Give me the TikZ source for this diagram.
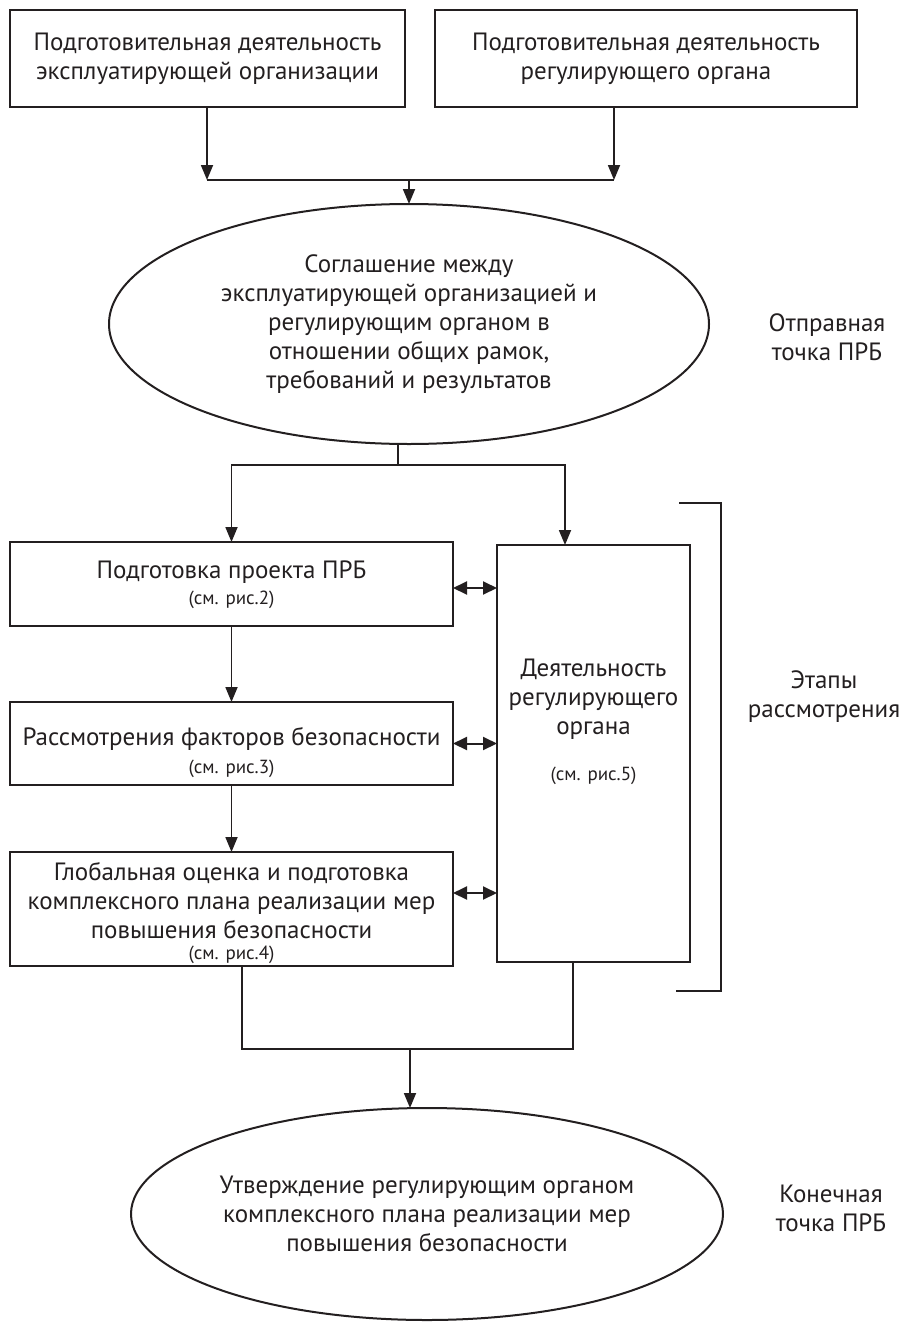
\documentclass[tikz,border=0pt]{standalone}
\usepackage{fontspec}
\setmainfont{PT Sans}
\usetikzlibrary{arrows.meta,shapes.geometric,calc}
\definecolor{ink}{HTML}{231F20}
\begin{document}
\begin{tikzpicture}[x=1pt,y=-1pt,
  every node/.style={inner sep=0pt,outer sep=0pt,text=ink},
  mainfont/.style={font=\fontsize{25}{29}\selectfont},
  subfont/.style={font=\fontsize{19}{22}\selectfont},
  box/.style={draw=ink,line width=2.2pt,rectangle},
  oval/.style={draw=ink,line width=2pt,ellipse,mainfont,align=center},
  txt/.style={mainfont,align=center},
  arr/.style={draw=ink,line width=1.8pt,-{Triangle[length=15pt,width=12pt]}},
  darr/.style={draw=ink,line width=2pt,{Triangle[length=14pt,width=13pt]}-{Triangle[length=14pt,width=13pt]}},
  ln/.style={draw=ink,line width=1.8pt},
  brk/.style={draw=ink,line width=2.2pt}]
\useasboundingbox (0,0) rectangle (902,1322);

% top boxes
\node[box,minimum width=395pt,minimum height=97pt,txt] (a) at (207.5,58.5)
  {Подготовительная деятельность\\эксплуатирующей организации};
\node[box,minimum width=422pt,minimum height=97pt,txt] (b) at (646,58.5)
  {Подготовительная деятельность\\регулирующего органа};

% agreement ellipse
\node[oval,minimum width=600pt,minimum height=240pt] (e1) at (409,324)
  {Соглашение между\\эксплуатирующей организацией и\\регулирующим органом в\\отношении общих рамок,\\требований и результатов};
\node[txt] (l1) at (827,337) {Отправная\\точка ПРБ};

\coordinate (ja) at (207,180);
\coordinate (jb) at (614,180);
\coordinate (jm0) at (409,180);
\draw[arr] (a.south -| ja) -- (ja);
\draw[arr] (b.south -| jb) -- (jb);
\draw[ln] (ja) -- (jb);
\draw[arr] (jm0) -- (e1.north);

% left boxes
\node[box,minimum width=443pt,minimum height=84pt] (b1) at (231.5,584) {};
\node[txt] (t1) at (231.5,572) {Подготовка проекта ПРБ};
\node[subfont] (s1) at (231.5,600) {(см. рис.2)};

\node[box,minimum width=443pt,minimum height=83pt] (b2) at (231.5,743.5) {};
\node[txt] (t2) at (231.5,739) {Рассмотрения факторов безопасности};
\node[subfont] (s2) at (231.5,769) {(см. рис.3)};

\node[box,minimum width=443pt,minimum height=114pt] (b3) at (231.5,909) {};
\node[txt] (t3) at (231.5,901) {Глобальная оценка и подготовка\\комплексного плана реализации мер\\повышения безопасности};
\node[subfont] (s3) at (231.5,955) {(см. рис.4)};

% right box
\node[box,minimum width=193pt,minimum height=417pt] (r) at (593.5,753.5) {};
\node[txt] (tr) at (593.5,699) {Деятельность\\регулирующего\\органа};
\node[subfont] (sr) at (593.5,776) {(см. рис.5)};

% split from ellipse
\coordinate (j1) at (398,465);
\coordinate (rt) at (565,545);
\draw[ln] (e1.south -| j1) -- (j1);
\draw[arr] (j1) -| (b1.north);
\draw[arr] (j1) -| (rt);

% vertical flow
\draw[arr] (b1.south) -- (b2.north);
\draw[arr] (b2.south) -- (b3.north);

% double arrows
\draw[darr] ($(b1.east)+(0,4)$) -- ($(b1.east -| r.west)+(0,4)$);
\draw[darr] (b2.east) -- (b2.east -| r.west);
\draw[darr] ($(b3.east)+(0,-16)$) -- ($(b3.east -| r.west)+(0,-16)$);

% bracket
\coordinate (k1) at (679,503);
\coordinate (k2) at (721,503);
\coordinate (k3) at (721,991);
\coordinate (k4) at (676,991);
\draw[brk] (k1) -- (k2) -- (k3) -- (k4);
\node[txt] (l2) at (824,697) {Этапы\\рассмотрения};

% join
\coordinate (jl) at (242,1049);
\coordinate (jr) at (573,1049);
\coordinate (jm) at (410,1049);
\draw[ln] (b3.south -| jl) -- (jl) -- (jr) -- (r.south -| jr);

% final ellipse
\node[oval,minimum width=592pt,minimum height=212pt] (e2) at (427,1214)
  {Утверждение регулирующим органом\\комплексного плана реализации мер\\повышения безопасности};
\draw[arr] (jm) -- (jm |- e2.north);
\node[txt] (l3) at (831,1208) {Конечная\\точка ПРБ};
\end{tikzpicture}
\end{document}
